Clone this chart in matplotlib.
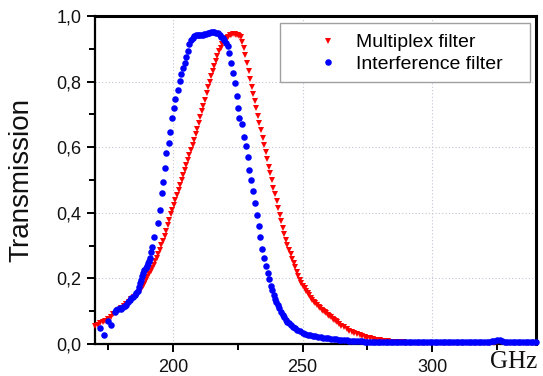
import matplotlib
matplotlib.use("Agg")
import matplotlib.pyplot as plt
from matplotlib.ticker import MultipleLocator, FuncFormatter
from matplotlib.patches import Rectangle

# ---------------- data ----------------
multiplex_freq = [
    170, 171, 172, 173, 174, 175, 176, 177, 178, 179, 180, 181, 182, 183, 184, 185, 186,
    186.6, 187.2, 187.8, 188.4, 189.0, 189.6, 190.2, 190.8, 191.4, 192.0, 192.6, 193.2, 193.8,
    194.4, 195.0, 195.6, 196.2, 196.8, 197.4, 198.0, 198.6, 199.2, 199.8, 200.4, 201.0, 201.6,
    202.2, 202.8, 203.4, 204.0, 204.6, 205.2, 205.8, 206.4, 207.0, 207.6, 208.2, 208.8, 209.4,
    210.0, 210.6, 211.2, 211.8, 212.4, 213.0, 213.6, 214.2, 214.8, 215.4, 216.0, 216.6, 217.2,
    217.8, 218.4, 219.0, 219.6, 220.2, 220.8, 221.4, 222.0, 222.6, 223.2, 223.8, 224.4, 225.0,
    225.6, 226.2, 226.8, 227.4, 228.0, 228.6, 229.2, 229.8, 230.4, 231.0, 231.6, 232.2, 232.8,
    233.4, 234.0, 234.6, 235.2, 235.8, 236.4, 237.0, 237.6, 238.2, 238.8, 239.4, 240.0, 240.6,
    241.2, 241.8, 242.4, 243.0, 243.6, 244.2, 244.8, 245.4, 246.0, 246.6, 247.2, 247.8, 248.4,
    249.0, 249.6, 250.2, 250.8, 251.4, 252.0, 252.6, 253.2, 253.8, 254.4, 255.0, 255.6, 256.2,
    256.8, 257.4, 258.0, 258.6, 259.2, 259.8, 260.4, 261.0, 261.6, 262.2, 262.8, 263.4, 264.0,
    265, 266, 267, 268, 269, 270, 271, 272, 273, 274, 275, 276, 277, 278, 279, 280, 281, 282,
    283, 284, 285, 286, 287, 288, 289, 290, 292, 294, 296, 298, 300, 302, 304, 306, 308, 310,
    312, 314, 316, 318, 320, 322, 324, 325, 326, 327, 328, 330, 332, 334, 336, 338, 340,
]
multiplex_T = [
    0.056, 0.059, 0.063, 0.067, 0.071, 0.077, 0.083, 0.090, 0.096, 0.103, 0.110, 0.116, 0.122,
    0.129, 0.136, 0.143, 0.150,
    0.155, 0.161, 0.168, 0.176, 0.184, 0.194, 0.203, 0.213, 0.222, 0.231, 0.241, 0.252, 0.262,
    0.274, 0.287, 0.301, 0.315, 0.330, 0.346, 0.362, 0.379, 0.395, 0.410, 0.425, 0.440, 0.455,
    0.470, 0.485, 0.500, 0.515, 0.530, 0.545, 0.560, 0.575, 0.590, 0.606, 0.623, 0.639, 0.657,
    0.674, 0.691, 0.709, 0.727, 0.745, 0.764, 0.783, 0.800, 0.817, 0.832, 0.848, 0.864, 0.879,
    0.892, 0.904, 0.914, 0.922, 0.929, 0.933, 0.937, 0.941, 0.943, 0.944, 0.944, 0.943, 0.942,
    0.940, 0.935, 0.920, 0.901, 0.880, 0.856, 0.832, 0.808, 0.785, 0.763, 0.741, 0.719, 0.696,
    0.674, 0.652, 0.629, 0.607, 0.584, 0.563, 0.541, 0.520, 0.499, 0.477, 0.456, 0.435, 0.414,
    0.393, 0.374, 0.354, 0.335, 0.318, 0.302, 0.287, 0.273, 0.260, 0.247, 0.234, 0.220, 0.208,
    0.196, 0.186, 0.177, 0.170, 0.162, 0.155, 0.148, 0.141, 0.135, 0.129, 0.124, 0.119, 0.114,
    0.110, 0.105, 0.101, 0.097, 0.093, 0.088, 0.084, 0.081, 0.077, 0.073, 0.069, 0.066, 0.062,
    0.056, 0.051, 0.046, 0.041, 0.037, 0.033, 0.029, 0.026, 0.023, 0.021, 0.019, 0.017, 0.015,
    0.013, 0.012, 0.011, 0.010, 0.009, 0.008, 0.007, 0.007, 0.006, 0.006, 0.005, 0.005, 0.004,
    0.004, 0.003, 0.003, 0.003, 0.002, 0.002, 0.002, 0.002, 0.002, 0.002, 0.002, 0.002, 0.002,
    0.002, 0.002, 0.002, 0.003, 0.006, 0.008, 0.006, 0.003, 0.002, 0.002, 0.002, 0.002, 0.002,
    0.002,
]

interference_freq = [
    171.8, 173.4, 175.0, 176.3, 177.6, 178.2, 178.9, 179.5, 180.2, 180.8, 181.5, 182.1, 182.7,
    183.3, 184.0, 184.6, 185.3, 185.9, 186.4, 186.9, 187.4, 187.8, 188.2, 188.5, 189.0, 189.5,
    190.0, 190.4, 190.9, 191.3, 191.7, 192.1, 192.7, 194.2, 194.9, 195.8, 196.2, 196.8, 197.5,
    198.5, 199.1, 199.8, 200.3, 201.0, 201.9, 202.6, 203.2, 203.8, 204.5, 205.2, 205.8, 206.4,
    207.1, 207.7, 208.3, 208.9, 209.6, 210.2, 210.9, 211.5, 212.2, 212.8, 213.5, 214.1, 214.8,
    215.4, 216.0, 216.7, 217.3, 218.0, 218.6, 219.2, 219.9, 220.5, 221.2, 221.8, 222.5, 223.1,
    224.1, 224.6, 225.0, 225.7, 226.7, 227.6, 228.2, 228.8, 229.5, 230.2, 230.8, 231.8, 232.3,
    233.1, 233.6, 234.4, 235.3, 235.9, 236.5, 237.2, 237.8, 238.3, 238.9, 239.4, 239.9, 240.5,
    241.0, 241.6, 242.3, 242.9, 243.5, 244.2, 244.8, 245.5, 246.2, 247.0, 248.0, 249.0, 250.0,
    251.0, 252.0, 253.0, 254.0, 255.0, 256.0, 257.0, 258.0, 259.0, 260.0, 261.0, 262.0, 263.0,
    264.0, 265.0, 266.0, 267.0, 268.0, 269.0, 270.0, 271.0, 272.0, 273.0, 274.0, 275.0, 276.0,
    277.0, 278.0, 279.0, 280.0, 281.0, 282.0, 283.0, 284.0, 285.0, 286.0, 287.0, 288.0, 289.0,
    290.0, 291.0, 292.0, 293.0, 294.0, 295.0, 296.0, 297.0, 298.0, 299.0, 300.0, 301.0, 302.0,
    303.0, 304.0, 305.0, 306.0, 307.0, 308.0, 309.0, 310.0, 311.0, 312.0, 313.0, 314.0, 315.0,
    316.0, 317.0, 318.0, 319.0, 320.0, 321.0, 322.0, 323.0, 324.0, 325.0, 326.0, 327.0, 328.0,
    329.0, 330.0, 331.0, 332.0, 333.0, 334.0, 335.0, 336.0, 337.0, 338.0, 339.0, 340.0,
]
interference_T = [
    0.048, 0.027, 0.071, 0.058, 0.098, 0.104, 0.107, 0.109, 0.108, 0.112, 0.115, 0.119, 0.127,
    0.134, 0.139, 0.144, 0.150, 0.155, 0.163, 0.175, 0.186, 0.195, 0.207, 0.216, 0.225, 0.231,
    0.239, 0.246, 0.254, 0.261, 0.280, 0.297, 0.327, 0.368, 0.410, 0.459, 0.495, 0.538, 0.583,
    0.614, 0.646, 0.688, 0.719, 0.746, 0.774, 0.803, 0.823, 0.840, 0.856, 0.876, 0.894, 0.915,
    0.927, 0.934, 0.939, 0.941, 0.942, 0.943, 0.942, 0.942, 0.944, 0.946, 0.947, 0.948, 0.950,
    0.951, 0.950, 0.949, 0.947, 0.942, 0.937, 0.933, 0.927, 0.919, 0.909, 0.886, 0.856, 0.826,
    0.795, 0.756, 0.719, 0.688, 0.672, 0.632, 0.604, 0.569, 0.530, 0.500, 0.466, 0.429, 0.393,
    0.360, 0.325, 0.289, 0.261, 0.238, 0.217, 0.197, 0.177, 0.164, 0.150, 0.138, 0.128, 0.118,
    0.109, 0.098, 0.088, 0.081, 0.074, 0.068, 0.063, 0.058, 0.053, 0.048, 0.043, 0.039, 0.035,
    0.031, 0.028, 0.026, 0.024, 0.023, 0.021, 0.020, 0.019, 0.018, 0.017, 0.016, 0.015, 0.014,
    0.013, 0.012, 0.011, 0.011, 0.010, 0.010, 0.009, 0.009, 0.008, 0.008, 0.007, 0.007, 0.007,
    0.006, 0.006, 0.006, 0.006, 0.006, 0.006, 0.006, 0.005, 0.005, 0.005, 0.005, 0.005, 0.005,
    0.005, 0.005, 0.005, 0.005, 0.005, 0.005, 0.005, 0.005, 0.005, 0.005, 0.005, 0.005, 0.005,
    0.005, 0.005, 0.005, 0.005, 0.005, 0.005, 0.005, 0.005, 0.005, 0.005, 0.005, 0.005, 0.005,
    0.005, 0.005, 0.005, 0.005, 0.005, 0.006, 0.007, 0.008, 0.010, 0.012, 0.012, 0.010, 0.007,
    0.005, 0.005, 0.005, 0.005, 0.005, 0.005, 0.005, 0.005, 0.005, 0.005, 0.005, 0.005,
]

series_labels = ["Multiplex filter", "Interference filter"]
x_major_ticks = [200, 250, 300]
y_label = "Transmission"
x_unit = "GHz"

# ---------------- figure ----------------
plt.rcParams["font.family"] = ["Liberation Sans", "DejaVu Sans"]

fig = plt.figure(figsize=(5.43, 3.76), dpi=100)
ax = fig.add_axes([0.175, 0.0851, 0.812, 0.8723])

ax.plot(multiplex_freq, multiplex_T, linestyle="none", marker="v", markersize=4.5,
        markeredgewidth=0, color="#ff0000", label=series_labels[0], clip_on=False, zorder=3)
ax.plot(interference_freq, interference_T, linestyle="none", marker="o", markersize=4.7,
        markeredgewidth=0, color="#0000ff", label=series_labels[1], clip_on=False, zorder=4)

ax.set_xlim(170, 340)
ax.set_ylim(0, 1.0)
ax.set_xticks(x_major_ticks)
ax.xaxis.set_minor_locator(MultipleLocator(25))
ax.yaxis.set_major_locator(MultipleLocator(0.2))
ax.yaxis.set_minor_locator(MultipleLocator(0.1))
ax.yaxis.set_major_formatter(FuncFormatter(lambda v, p: f"{v:.1f}".replace(".", ",")))

ax.grid(True, which="major", linestyle=(0, (1, 2)), color="#c4c4d4", linewidth=0.8)
ax.set_axisbelow(True)

for s in ax.spines.values():
    s.set_linewidth(1.6)
    s.set_color("black")
ax.spines["top"].set_linewidth(2.2)
ax.spines["right"].set_linewidth(2.2)

ax.tick_params(axis="both", which="major", direction="out", length=6, width=1.4,
               labelsize=13, colors="black", labelcolor="#111111")
ax.tick_params(axis="both", which="minor", direction="out", length=4, width=1.4)
ax.tick_params(axis="y", which="major", pad=4)
ax.tick_params(axis="x", which="major", pad=5)

fig.text(21 / 543, 1 - 180 / 376, y_label, rotation=90, ha="center", va="center",
         fontsize=20, color="#111111")
fig.text(514 / 543, 1 - 362 / 376, x_unit, ha="center", va="center", fontsize=18,
         family=["Liberation Serif", "DejaVu Serif"], color="#111111")

# legend frame drawn as rectangle, entries placed inside
ax.add_patch(Rectangle((0.4195, 0.799), 0.5665, 0.18, transform=ax.transAxes,
                       facecolor="white", edgecolor="#a0a0a0", linewidth=1.0, zorder=5))
leg = ax.legend(loc="upper left", bbox_to_anchor=(0.506, 0.946), frameon=False,
                fontsize=14, handlelength=1.0, handletextpad=0.94, borderpad=0,
                labelspacing=0.22, borderaxespad=0, markerscale=1.0)
leg.set_zorder(6)

fig.savefig("out.png", dpi=100)
